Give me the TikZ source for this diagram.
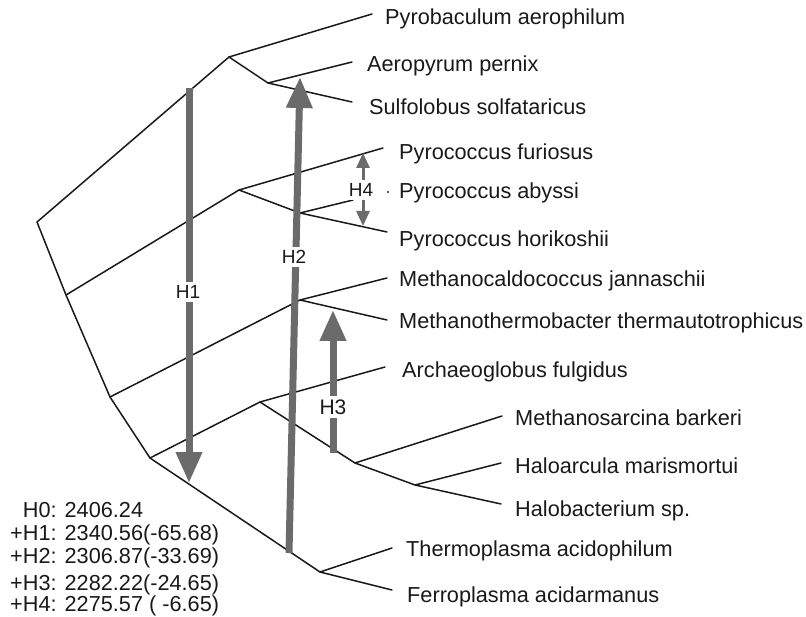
\documentclass[tikz,border=0pt]{standalone}
\usepackage{fontspec}
\setmainfont{Liberation Sans}
\usetikzlibrary{arrows.meta}
\definecolor{hgray}{HTML}{6B6B6B}
\begin{document}
\begin{tikzpicture}[x=1pt,y=-1pt,
  branch/.style={line width=1.5pt, black!90, line cap=round, line join=round},
  taxon/.style={anchor=base west, inner sep=0pt, text=black!90, font=\fontsize{21.7}{26}\selectfont},
  hbig/.style={line width=7pt, hgray, -{Triangle[length=31pt,width=25pt]}},
  hsmall/.style={line width=3pt, hgray, {Triangle[length=15pt,width=13pt]}-{Triangle[length=15pt,width=13pt]}},
  hlabel/.style={fill=white, inner sep=3.5pt, text=black!90, font=\fontsize{19}{22}\selectfont},
  legend/.style={anchor=base west, inner sep=0pt, text=black!90, font=\fontsize{21.7}{26}\selectfont}]
\useasboundingbox (0,0) rectangle (806,617);
% internal nodes
\coordinate (r1) at (37,222);
\coordinate (A) at (229,57);
\coordinate (B) at (268,83);
\coordinate (s2) at (66,295);
\coordinate (C) at (239,190);
\coordinate (D) at (300,213);
\coordinate (s3) at (110,397);
\coordinate (E) at (300,300);
\coordinate (s4) at (150,458);
\coordinate (F) at (260,402);
\coordinate (G) at (355,463);
\coordinate (H) at (415,485);
\coordinate (I) at (320,572);
% leaf ends
\coordinate (lPyb) at (372,14);
\coordinate (lAer) at (352,62);
\coordinate (lSul) at (352,102);
\coordinate (lFur) at (383,148);
\coordinate (lAby) at (353,200);
\coordinate (lHor) at (387,232);
\coordinate (lMcj) at (387,278);
\coordinate (lMth) at (387,320);
\coordinate (lArc) at (385,367);
\coordinate (lMsb) at (502,416);
\coordinate (lHam) at (501,463);
\coordinate (lHbs) at (501,504);
\coordinate (lTpa) at (392,548);
\coordinate (lFpa) at (392,590);
% tree
\draw[branch] (A) -- (r1) -- (s2) -- (s3) -- (s4) -- (I);
\draw[branch] (lPyb) -- (A) -- (B) -- (lAer);
\draw[branch] (B) -- (lSul);
\draw[branch] (s2) -- (C) -- (lFur);
\draw[branch] (C) -- (D) -- (lAby);
\draw[branch] (D) -- (lHor);
\draw[branch] (s3) -- (E) -- (lMcj);
\draw[branch] (E) -- (lMth);
\draw[branch] (s4) -- (F) -- (lArc);
\draw[branch] (F) -- (G) -- (lMsb);
\draw[branch] (G) -- (H) -- (lHam);
\draw[branch] (H) -- (lHbs);
\draw[branch] (I) -- (lTpa);
\draw[branch] (I) -- (lFpa);
% taxa
\node[taxon] (tPyb) at (385,25) {Pyrobaculum aerophilum};
\node[taxon] (tAer) at (367,72) {Aeropyrum pernix};
\node[taxon] (tSul) at (369,115) {Sulfolobus solfataricus};
\node[taxon] (tFur) at (399,160) {Pyrococcus furiosus};
\node[taxon] (tAby) at (399,199) {Pyrococcus abyssi};
\node[taxon] (tHor) at (399,247) {Pyrococcus horikoshii};
\node[taxon] (tMcj) at (399,287) {Methanocaldococcus jannaschii};
\node[taxon] (tMth) at (399,329) {Methanothermobacter thermautotrophicus};
\node[taxon] (tArc) at (402,378) {Archaeoglobus fulgidus};
\node[taxon] (tMsb) at (515,426) {Methanosarcina barkeri};
\node[taxon] (tHam) at (515,473) {Haloarcula marismortui};
\node[taxon] (tHbs) at (515,516) {Halobacterium sp.};
\node[taxon] (tTpa) at (406,556) {Thermoplasma acidophilum};
\node[taxon] (tFpa) at (407,602) {Ferroplasma acidarmanus};
\fill[black!90] (388,192) circle (1.1pt);
% H arrows
\coordinate (h1t) at (189,88);
\coordinate (h1b) at (189,483);
\coordinate (h2b) at (289,553);
\coordinate (h2t) at (300,77);
\coordinate (h3b) at (333,453);
\coordinate (h3t) at (333,310);
\coordinate (h4t) at (363,153);
\coordinate (h4b) at (363,226);
\draw[hbig] (h1t) -- (h1b);
\draw[hbig] (h2b) -- (h2t);
\draw[hbig] (h3b) -- (h3t);
\draw[hsmall] (h4t) -- (h4b);
\node[hlabel] (H1) at (188,292) {H1};
\node[hlabel] (H2) at (294,257) {H2};
\node[hlabel, font=\fontsize{21}{24}\selectfont] (H3) at (333,407) {H3};
\node[hlabel] (H4) at (361,190) {H4};
% legend
\node[legend] (L0) at (10,517) {\phantom{+}H0: 2406.24};
\node[legend] (L1) at (10,540) {+H1: 2340.56(-65.68)};
\node[legend] (L2) at (10,563) {+H2: 2306.87(-33.69)};
\node[legend] (L3) at (10,590) {+H3: 2282.22(-24.65)};
\node[legend] (L4) at (10,611) {+H4: 2275.57 ( -6.65)};
\end{tikzpicture}
\end{document}
